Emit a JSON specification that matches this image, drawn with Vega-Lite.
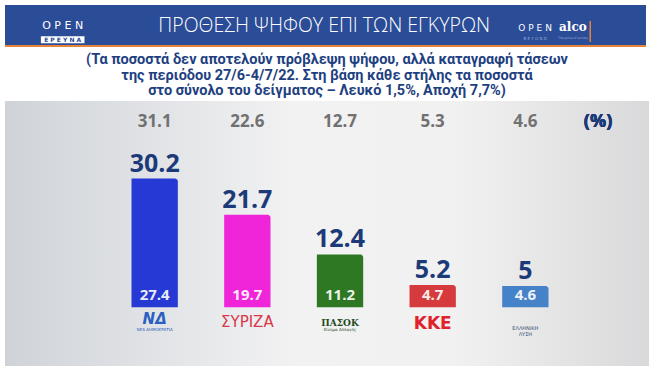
{
  "$schema": "https://vega.github.io/schema/vega-lite/v6.json",
  "padding": {"top": 5, "left": 4, "right": 5, "bottom": 13},
  "background": "white",
  "config": {"view": {"stroke": null}, "concat": {"spacing": 5}},
  "datasets": {
    "parties": [
      {"party": "ΝΔ", "value": 30.2, "low": 27.4, "high": 31.1},
      {"party": "ΣΥΡΙΖΑ", "value": 21.7, "low": 19.7, "high": 22.6},
      {"party": "ΠΑΣΟΚ", "value": 12.4, "low": 11.2, "high": 12.7},
      {"party": "ΚΚΕ", "value": 5.2, "low": 4.7, "high": 5.3},
      {"party": "ΕΛΛΗΝΙΚΗ ΛΥΣΗ", "value": 5, "low": 4.6, "high": 4.6}
    ],
    "header": [
      {"label": "ΠΡΟΘΕΣΗ ΨΗΦΟΥ ΕΠΙ ΤΩΝ ΕΓΚΥΡΩΝ", "pos": 49.8, "row": 4.8}
    ]
  },
  "vconcat": [
    {
      "width": 641,
      "height": 41,
      "view": {"fill": "#2b4c97", "stroke": null},
      "data": {"name": "header"},
      "layer": [
        {
          "mark": {"type": "text", "color": "white", "font": "Open Sans", "fontWeight": 300, "fontSize": 19.5, "baseline": "middle"},
          "encoding": {
            "x": {"field": "pos", "type": "quantitative", "scale": {"domain": [0, 100]}, "axis": null},
            "y": {"field": "row", "type": "quantitative", "scale": {"domain": [0, 10]}, "axis": null},
            "text": {"field": "label"}
          }
        },
        {
          "mark": {"type": "text", "color": "white", "font": "DejaVu Sans", "fontSize": 11, "baseline": "middle"},
          "encoding": {
            "x": {"datum": 9.0},
            "y": {"datum": 4.9},
            "text": {"value": "O P E N"}
          }
        },
        {
          "mark": {"type": "rect", "color": "white"},
          "encoding": {
            "x": {"datum": 5.6},
            "x2": {"datum": 12.4},
            "y": {"datum": 2.4},
            "y2": {"datum": 0.7}
          }
        },
        {
          "mark": {"type": "text", "color": "#2b4c97", "font": "DejaVu Sans", "fontWeight": "bold", "fontSize": 6, "baseline": "middle"},
          "encoding": {
            "x": {"datum": 9.0},
            "y": {"datum": 1.55},
            "text": {"value": "Ε Ρ Ε Υ Ν Α"}
          }
        },
        {
          "mark": {"type": "text", "color": "white", "font": "DejaVu Sans", "fontSize": 9, "baseline": "middle"},
          "encoding": {
            "x": {"datum": 82.7},
            "y": {"datum": 4.5},
            "text": {"value": "O P E N"}
          }
        },
        {
          "mark": {"type": "text", "color": "#9fb0d8", "font": "DejaVu Sans", "fontSize": 4, "baseline": "middle"},
          "encoding": {
            "x": {"datum": 82.7},
            "y": {"datum": 1.7},
            "text": {"value": "B E Y O N D"}
          }
        },
        {
          "mark": {"type": "text", "color": "white", "font": "DejaVu Serif", "fontWeight": "bold", "fontSize": 12, "baseline": "middle"},
          "encoding": {
            "x": {"datum": 88.6},
            "y": {"datum": 4.6},
            "text": {"value": "alco"}
          }
        },
        {
          "mark": {"type": "text", "color": "#9fb0d8", "font": "DejaVu Sans", "fontSize": 3, "baseline": "middle"},
          "encoding": {
            "x": {"datum": 88.6},
            "y": {"datum": 1.9},
            "text": {"value": "The pulse of society"}
          }
        },
        {
          "mark": {"type": "rule", "color": "#e8843a", "strokeWidth": 1.5},
          "encoding": {
            "x": {"datum": 91.3},
            "y": {"datum": 1.0},
            "y2": {"datum": 6.1}
          }
        },
        {
          "mark": {"type": "rule", "color": "#e8843a", "strokeWidth": 2},
          "encoding": {"y": {"datum": 0}}
        }
      ]
    },
    {
      "width": 644,
      "height": 265,
      "title": {
        "text": [
          "(Τα ποσοστά δεν αποτελούν πρόβλεψη ψήφου, αλλά καταγραφή τάσεων",
          "της περιόδου 27/6-4/7/22. Στη βάση κάθε στήλης τα ποσοστά",
          "στο σύνολο του δείγματος – Λευκό 1,5%, Αποχή 7,7%)"
        ],
        "font": "Roboto",
        "fontWeight": "bold",
        "fontSize": 14.5,
        "lineHeight": 15.6,
        "color": "#1e3f80",
        "anchor": "middle",
        "offset": 2
      },
      "view": {
        "fill": {
          "gradient": "linear", "x1": 0, "x2": 1, "y1": 0, "y2": 0,
          "stops": [
            {"offset": 0, "color": "#cfd3d8"},
            {"offset": 0.45, "color": "#f2f2f3"},
            {"offset": 0.7, "color": "#f1f1f1"},
            {"offset": 1, "color": "#d9d9db"}
          ]
        },
        "stroke": null
      },
      "data": {"name": "parties"},
      "encoding": {
        "x": {
          "field": "party", "type": "nominal", "sort": null,
          "scale": {"type": "band", "domain": ["ΝΔ", "ΣΥΡΙΖΑ", "ΠΑΣΟΚ", "ΚΚΕ", "ΕΛΛΗΝΙΚΗ ΛΥΣΗ", "(%)"], "range": [126.5, 636.2], "paddingInner": 0.5, "paddingOuter": 0},
          "axis": null
        }
      },
      "layer": [
        {
          "mark": {"type": "bar", "cornerRadiusTopRight": 3},
          "encoding": {
            "y": {"field": "value", "type": "quantitative", "scale": {"domain": [-13.8, 48.4], "nice": false, "zero": false}, "axis": null},
            "y2": {"datum": 0},
            "color": {
              "field": "party", "type": "nominal",
              "scale": {"domain": ["ΝΔ", "ΣΥΡΙΖΑ", "ΠΑΣΟΚ", "ΚΚΕ", "ΕΛΛΗΝΙΚΗ ΛΥΣΗ"], "range": ["#2639d4", "#f024d9", "#2e7824", "#d53a3c", "#4682c7"]},
              "legend": null
            }
          }
        },
        {
          "mark": {"type": "text", "font": "Open Sans", "fontWeight": "bold", "fontSize": 25, "color": "#1c3a78", "baseline": "bottom", "dy": -2},
          "encoding": {
            "y": {"field": "value", "type": "quantitative"},
            "text": {"field": "value", "type": "quantitative"}
          }
        },
        {
          "mark": {"type": "text", "font": "Open Sans", "fontWeight": "bold", "fontSize": 15, "color": "white", "opacity": 0.9, "baseline": "middle", "dy": -12},
          "encoding": {
            "y": {"datum": 0},
            "text": {"field": "low", "type": "quantitative", "format": ".1f"}
          }
        },
        {
          "mark": {"type": "text", "font": "Open Sans", "fontWeight": "bold", "fontSize": 17, "color": "#717171", "baseline": "middle"},
          "encoding": {
            "y": {"datum": 43.4},
            "text": {"field": "high", "type": "quantitative", "format": ".1f"}
          }
        },
        {
          "mark": {"type": "text", "font": "Open Sans", "fontWeight": "bold", "fontSize": 18, "color": "#1c3a78", "baseline": "middle", "dx": -20},
          "encoding": {
            "x": {"datum": "(%)"},
            "y": {"datum": 43.4},
            "text": {"value": "(%)"}
          }
        },
        {
          "transform": [{"filter": "datum.party === 'ΝΔ'"}],
          "mark": {"type": "text", "font": "DejaVu Sans", "fontWeight": "bold", "fontStyle": "italic", "fontSize": 15, "color": "#2b5fc0", "baseline": "middle", "dy": -2},
          "encoding": {"y": {"datum": -3.3}, "text": {"value": "ΝΔ"}}
        },
        {
          "transform": [{"filter": "datum.party === 'ΝΔ'"}],
          "mark": {"type": "text", "font": "DejaVu Sans", "fontSize": 4, "color": "#2b5fc0", "baseline": "middle"},
          "encoding": {"y": {"datum": -5.3}, "text": {"value": "ΝΕΑ ΔΗΜΟΚΡΑΤΙΑ"}}
        },
        {
          "transform": [{"filter": "datum.party === 'ΣΥΡΙΖΑ'"}],
          "mark": {"type": "text", "font": "DejaVu Sans", "fontSize": 15, "color": "#d9384a", "baseline": "middle"},
          "encoding": {"y": {"datum": -3.5}, "text": {"value": "ΣΥΡΙΖΑ"}}
        },
        {
          "transform": [{"filter": "datum.party === 'ΠΑΣΟΚ'"}],
          "mark": {"type": "text", "font": "DejaVu Serif", "fontWeight": "bold", "fontSize": 9, "color": "#1d4a1a", "baseline": "middle"},
          "encoding": {"y": {"datum": -3.6}, "text": {"value": "ΠΑΣΟΚ"}}
        },
        {
          "transform": [{"filter": "datum.party === 'ΠΑΣΟΚ'"}],
          "mark": {"type": "text", "font": "DejaVu Sans", "fontSize": 4, "color": "#1d4a1a", "baseline": "middle"},
          "encoding": {"y": {"datum": -5.3}, "text": {"value": "Κίνημα Αλλαγής"}}
        },
        {
          "transform": [{"filter": "datum.party === 'ΚΚΕ'"}],
          "mark": {"type": "text", "font": "DejaVu Sans", "fontWeight": "bold", "fontSize": 17, "color": "#e0232b", "baseline": "middle"},
          "encoding": {"y": {"datum": -4.0}, "text": {"value": "ΚΚΕ"}}
        },
        {
          "transform": [{"filter": "datum.party === 'ΕΛΛΗΝΙΚΗ ΛΥΣΗ'"}],
          "mark": {"type": "text", "font": "DejaVu Sans", "fontSize": 5, "color": "#3a4f78", "baseline": "middle", "lineHeight": 6},
          "encoding": {"y": {"datum": -4.8}, "text": {"value": ["ΕΛΛΗΝΙΚΗ", "ΛΥΣΗ"]}}
        }
      ]
    }
  ]
}
